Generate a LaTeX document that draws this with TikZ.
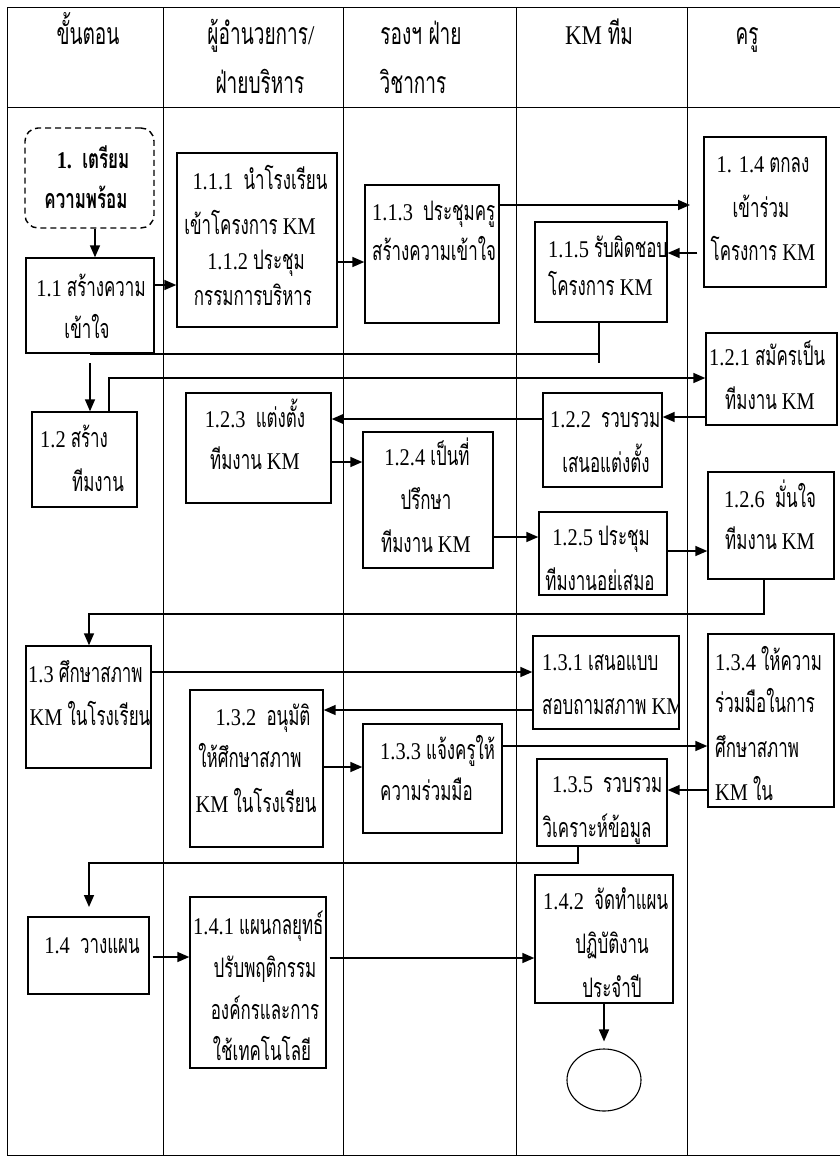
\documentclass[tikz,border=0pt]{standalone}
\usepackage{fontspec}
\setmainfont[FakeStretch=0.85]{Liberation Serif}
\newfontfamily\thaiF[Script=Thai,Scale=1.12,FakeStretch=0.63]{Loma}
\newcommand\T[1]{{\thaiF #1}}
\usetikzlibrary{arrows.meta,fit,shapes.geometric}
\begin{document}
\begin{tikzpicture}[x=1pt,y=-1pt,
  box/.style={draw, line width=1.4pt, inner sep=0pt},
  dbox/.style={draw, line width=1.4pt, inner sep=0pt, dashed, dash pattern=on 6pt off 4pt, rounded corners=13pt},
  txt/.style={inner sep=0pt, font=\fontsize{24}{28}\selectfont, anchor=base},
  txtl/.style={txt, anchor=base west},
  htxt/.style={inner sep=0pt, font=\fontsize{27}{30}\selectfont, anchor=base},
  conn/.style={line width=1.6pt},
  arr/.style={conn, -{Triangle[length=12pt,width=10pt]}},
  gridline/.style={line width=0.9pt}]
\useasboundingbox (0,0) rectangle (840,1157);
% table
\draw[gridline] (7,1155) -- (7,7) -- (840,7);
\draw[gridline] (7,107) -- (840,107);
\draw[gridline] (7,1155) -- (840,1155);
\foreach \cx in {163,343,516,687} \draw[gridline] (\cx,7) -- (\cx,1155);
% header
\node[htxt] (h1) at (88,44) {\T{ขั้นตอน}};
\node[htxt] (h2a) at (261,44) {\T{ผู้อำนวยการ}/};
\node[htxt] (h2b) at (260,93) {\T{ฝ่ายบริหาร}};
\node[htxt] (h3a) at (421,44) {\T{รองฯ ฝ่าย}};
\node[htxt] (h3b) at (413,93) {\T{วิชาการ}};
\node[htxt] (h4) at (599,44) {KM \T{ทีม}};
\node[htxt] (h5) at (747,44) {\T{ครู}};
% boxes
\node[dbox, fit={(25,128) (154,228)}] (s1) {};
\node[box, fit={(26,258) (154,353)}] (b11) {};
\node[box, fit={(177,153) (337,327)}] (b111) {};
\node[box, fit={(365,185) (499,323)}] (b113) {};
\node[box, fit={(704,137) (826,287)}] (b114) {};
\node[box, fit={(535,222) (667,322)}] (b115) {};
\node[box, fit={(32,412) (137,507)}] (b12) {};
\node[box, fit={(706,333) (837,425)}] (b121) {};
\node[box, fit={(543,393) (662,487)}] (b122) {};
\node[box, fit={(186,393) (331,503)}] (b123) {};
\node[box, fit={(363,432) (493,568)}] (b124) {};
\node[box, fit={(539,512) (667,595)}] (b125) {};
\node[box, fit={(708,472) (834,579)}] (b126) {};
\node[box, fit={(26,646) (151,768)}] (b13) {};
\node[box, fit={(533,636) (679,729)}] (b131) {};
\node[box, fit={(190,690) (323,847)}] (b132) {};
\node[box, fit={(363,724) (502,833)}] (b133) {};
\node[box, fit={(708,634) (834,807)}] (b134) {};
\node[box, fit={(537,759) (667,846)}] (b135) {};
\node[box, fit={(28,917) (149,994)}] (b14) {};
\node[box, fit={(190,897) (326,1068)}] (b141) {};
\node[box, fit={(535,875) (673,1003)}] (b142) {};
\node[draw, ellipse, line width=1.1pt, minimum width=74pt, minimum height=62pt, inner sep=0pt] (end) at (604,1080) {};
% texts
\node[txt, font=\fontsize{24}{28}\selectfont\bfseries] (ts1a) at (93,168) {1.~~\T{เตรียม}};
\node[txt, font=\fontsize{24}{28}\selectfont\bfseries] (ts1b) at (86,208) {\T{ความพร้อม}};
\node[txt] (t11a) at (91,296) {1.1 \T{สร้างความ}};
\node[txt] (t11b) at (87,338) {\T{เข้าใจ}};
\node[txt] (t111a) at (260,189) {1.1.1~~\T{นำโรงเรียน}};
\node[txt] (t111b) at (250,234) {\T{เข้าโครงการ} KM};
\node[txt] (t111c) at (256,269) {1.1.2 \T{ประชุม}};
\node[txt] (t111d) at (253,305) {\T{กรรมการบริหาร}};
\node[txtl] (t113a) at (372,220) {1.1.3~~\T{ประชุมครู}};
\node[txtl] (t113b) at (372,260) {\T{สร้างความเข้าใจ}};
\node[txt] (t114a) at (763,172) {1. 1.4 \T{ตกลง}};
\node[txt] (t114b) at (761,217) {\T{เข้าร่วม}};
\node[txt] (t114c) at (763,260) {\T{โครงการ} KM};
\node[txtl] (t115a) at (548,257) {1.1.5 \T{รับผิดชอบ}};
\node[txtl] (t115b) at (548,295) {\T{โครงการ} KM};
\node[txtl] (t12a) at (40,447) {1.2 \T{สร้าง}};
\node[txt] (t12b) at (98,491) {\T{ทีมงาน}};
\node[txtl] (t121a) at (709,365) {1.2.1 \T{สมัครเป็น}};
\node[txt] (t121b) at (770,409) {\T{ทีมงาน} KM};
\node[txtl] (t122a) at (550,427) {1.2.2~~\T{รวบรวม}};
\node[txt] (t122b) at (606,472) {\T{เสนอแต่งตั้ง}};
\node[txt] (t123a) at (255,427) {1.2.3~~\T{แต่งตั้ง}};
\node[txt] (t123b) at (255,469) {\T{ทีมงาน} KM};
\node[txt] (t124a) at (427,465) {1.2.4 \T{เป็นที่}};
\node[txt] (t124b) at (426,509) {\T{ปรึกษา}};
\node[txt] (t124c) at (426,552) {\T{ทีมงาน} KM};
\node[txt] (t125a) at (601,545) {1.2.5 \T{ประชุม}};
\node[txt] (t125b) at (600,590) {\T{ทีมงานอย่เสมอ}};
\node[txt] (t126a) at (770,507) {1.2.6~~\T{มั่นใจ}};
\node[txt] (t126b) at (770,549) {\T{ทีมงาน} KM};
\node[txtl] (t13a) at (28,682) {1.3 \T{ศึกษาสภาพ}};
\node[txt] (t13b) at (90,725) {KM \T{ในโรงเรียน}};
\node[txtl] (t131a) at (542,670) {1.3.1 \T{เสนอแบบ}};
\begin{scope}
\clip (533,690) rectangle (679,729);
\node[txtl] (t131b) at (542,714) {\T{สอบถามสภาพ} KM};
\end{scope}
\node[txt] (t132a) at (263,725) {1.3.2~~\T{อนุมัติ}};
\node[txt] (t132b) at (250,767) {\T{ให้ศึกษาสภาพ}};
\node[txt] (t132c) at (256,812) {KM \T{ในโรงเรียน}};
\node[txtl] (t133a) at (380,759) {1.3.3 \T{แจ้งครูให้}};
\node[txtl] (t133b) at (380,800) {\T{ความร่วมมือ}};
\node[txtl] (t134a) at (715,670) {1.3.4 \T{ให้ความ}};
\node[txtl] (t134b) at (715,712) {\T{ร่วมมือในการ}};
\node[txtl] (t134c) at (715,757) {\T{ศึกษาสภาพ}};
\node[txtl] (t134d) at (715,800) {KM \T{ใน}};
\node[txtl] (t135a) at (552,792) {1.3.5~~\T{รวบรวม}};
\node[txt] (t135b) at (597,837) {\T{วิเคราะห์ข้อมูล}};
\node[txt] (t14a) at (92,953) {1.4~~\T{วางแผน}};
\begin{scope}
\clip (190,897) rectangle (326,1068);
\node[txtl] (t141a) at (193,934) {1.4.1 \T{แผนกลยุทธ์}};
\end{scope}
\node[txt] (t141b) at (265,977) {\T{ปรับพฤติกรรม}};
\node[txt] (t141c) at (265,1019) {\T{องค์กรและการ}};
\node[txt] (t141d) at (262,1060) {\T{ใช้เทคโนโลยี}};
\begin{scope}
\clip (535,875) rectangle (673,1003);
\node[txtl] (t142a) at (543,909) {1.4.2~~\T{จัดทำแผน}};
\end{scope}
\node[txt] (t142b) at (612,953) {\T{ปฏิบัติงาน}};
\node[txt] (t142c) at (612,997) {\T{ประจำปี}};
% connectors
\draw[arr] (s1.south -| 95,0) -- (b11.north -| 95,0);
\draw[arr] (b11.east |- 0,285) -- (b111.west |- 0,285);
\draw[arr] (b111.east |- 0,262) -- (b113.west |- 0,262);
\coordinate (c114) at (690,205);
\draw[arr] (b113.east |- 0,205) -- (c114);
\draw[arr, shorten <=6pt] (b114.west |- 0,253) -- (b115.east |- 0,253);
\coordinate (c115) at (599,363);
\draw[conn] (b115.south -| 599,0) -- (c115);
\coordinate (c11a) at (90,354);
\coordinate (c11b) at (599,354);
\draw[conn] (c11a) -- (c11b);
\coordinate (c12) at (90,363);
\draw[arr] (c12) -- (b12.north -| 90,0);
\draw[arr] (b12.north -| 109,0) |- (b121.west |- 0,378);
\draw[arr] (b121.west |- 0,417) -- (b122.east |- 0,417);
\draw[arr] (b122.west |- 0,419) -- (b123.east |- 0,419);
\draw[arr] (b123.east |- 0,462) -- (b124.west |- 0,462);
\draw[arr] (b124.east |- 0,537) -- (b125.west |- 0,537);
\draw[arr] (b125.east |- 0,551) -- (b126.west |- 0,551);
\coordinate (c126) at (764,614);
\draw[arr] (b126.south -| 764,0) -- (c126) -| (b13.north -| 89,0);
\draw[arr] (b13.east |- 0,672) -- (b131.west |- 0,672);
\draw[arr] (b131.west |- 0,710) -- (b132.east |- 0,710);
\draw[arr] (b132.east |- 0,767) -- (b133.west |- 0,767);
\draw[arr] (b133.east |- 0,746) -- (b134.west |- 0,746);
\draw[arr] (b134.west |- 0,790) -- (b135.east |- 0,790);
\coordinate (c135) at (578,863);
\coordinate (c14) at (89,907);
\draw[arr] (b135.south -| 578,0) -- (c135) -| (c14);
\draw[arr, shorten <=3pt] (b14.east |- 0,957) -- (b141.west |- 0,957);
\draw[arr, shorten <=3pt] (b141.east |- 0,958) -- (b142.west |- 0,958);
\draw[arr, shorten >=7pt] (b142.south -| 604,0) -- (end.north);
\end{tikzpicture}
\end{document}
